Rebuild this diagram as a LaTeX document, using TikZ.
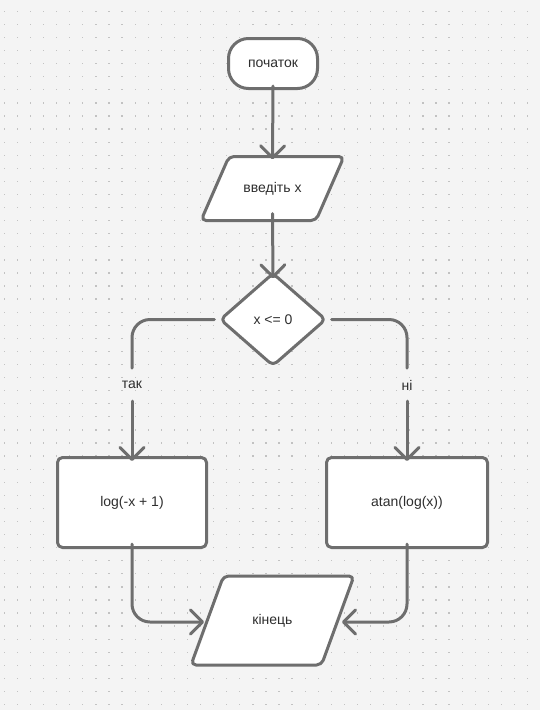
\documentclass[tikz,border=0pt]{standalone}
\usepackage{fontspec}
\setmainfont{Liberation Sans}
\usetikzlibrary{arrows.meta}
\definecolor{bg}{HTML}{F4F4F4}
\definecolor{dotc}{HTML}{C2C2C2}
\definecolor{strk}{HTML}{6E6E6E}
\definecolor{txt}{HTML}{2E2E2E}
\tikzset{
  shp/.style={draw=strk, line width=3pt, fill=white, line join=round},
  lbl/.style={text=txt, font=\fontsize{14}{16}\selectfont, inner sep=0pt},
  conn/.style={draw=strk, line width=3pt, line cap=round, rounded corners=18pt},
  arr/.style={conn, -{Straight Barb[length=12pt,width=24pt,line width=3pt,round]}},
}
\begin{document}
\begin{tikzpicture}[x=1pt,y=-1pt]
\fill[bg] (0,0) rectangle (540,710);
\useasboundingbox (0,0) rectangle (540,710);
\foreach \i in {0,...,41}{
  \foreach \j in {0,...,53}{
    \fill[dotc] ({4.3+13.08*\i-0.6},{11.3+13.08*\j-0.6}) rectangle +(1.3,1.3);
  }
}
% start
\node[shp, lbl, rounded corners=20pt, minimum width=89pt, minimum height=50pt] (start) at (273,63.5) {початок};
% input parallelogram
\draw[shp, rounded corners=5pt] (229,156.5) -- (344,156.5) -- (316,220.5) -- (201,220.5) -- cycle;
\node[lbl, minimum width=100pt, minimum height=64pt] (inp) at (272.5,188.5) {введіть x};
% decision
\draw[shp, rounded corners=5pt] (273,273.5) -- (325.5,319.5) -- (273,365.5) -- (220.5,319.5) -- cycle;
\node[lbl, minimum width=105pt, minimum height=92pt] (dec) at (273,319.5) {x <= 0};
% process boxes
\node[shp, lbl, rounded corners=5pt, minimum width=149pt, minimum height=90pt] (lbox) at (132,502.5) {\raisebox{-1.5pt}{log(-x + 1)}};
\node[shp, lbl, rounded corners=5pt, minimum width=161pt, minimum height=90pt] (rbox) at (407,502.5) {\raisebox{-1.5pt}{atan(log(x))}};
% end parallelogram
\draw[shp, rounded corners=5pt] (223.5,576) -- (354,576) -- (321.5,665) -- (191,665) -- cycle;
\node[lbl, minimum width=132pt, minimum height=89pt] (fin) at (272.5,620.5) {кінець};
% labels
\node[lbl] (yes) at (132,385) {так};
\node[lbl] (no) at (407,385) {ні};
\coordinate (ldec) at ([xshift=-6pt]dec.west);
\coordinate (rdec) at ([xshift=6pt]dec.east);
\coordinate (yt) at (132,368);
\coordinate (yb) at (132,401);
\coordinate (nt) at (407,368);
\coordinate (nb) at (407,401);
\coordinate (finl) at (204,622);
\coordinate (finr) at (342,622);
% connectors
\draw[arr] ([yshift=4pt]start.south) -- ([yshift=-3pt]inp.north);
\draw[arr] ([yshift=7pt]inp.south) -- ([yshift=-5pt]dec.north);
\draw[conn] (ldec) -| (yt);
\draw[arr] (yb) -- ([yshift=-5pt]lbox.north);
\draw[conn] (rdec) -| (nt);
\draw[arr] (nb) -- ([yshift=-5pt]rbox.north);
\draw[arr] ([yshift=5pt]lbox.south) |- (finl);
\draw[arr] ([yshift=5pt]rbox.south) |- (finr);
\end{tikzpicture}
\end{document}
